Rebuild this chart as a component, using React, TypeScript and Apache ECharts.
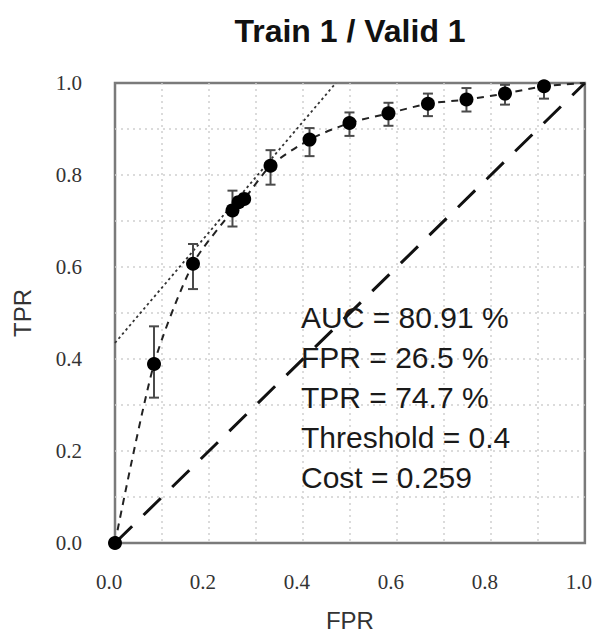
import React, { useEffect, useRef } from "react";
import * as echarts from "echarts";

const titleText = "Train 1 / Valid 1";
const xName = "FPR";
const yName = "TPR";

// ROC operating points (FPR, TPR)
const fpr = [0, 0.083, 0.166, 0.25, 0.263, 0.275, 0.331, 0.414, 0.499, 0.582, 0.666, 0.748, 0.83, 0.913, 1.0];
const tpr = [0, 0.389, 0.607, 0.723, 0.741, 0.748, 0.82, 0.877, 0.913, 0.934, 0.955, 0.964, 0.977, 0.993, 1.0];
// error bars (null = none)
const errLow = [null, 0.316, 0.552, 0.688, null, null, 0.779, 0.841, 0.885, 0.907, 0.928, 0.938, 0.953, 0.966, null];
const errHigh = [null, 0.471, 0.65, 0.766, null, null, 0.854, 0.902, 0.936, 0.957, 0.977, 0.989, 0.996, 1.0, null];

// tangent line at the chosen threshold
const tangentX = [0, 0.47];
const tangentY = [0.435, 1.0];
// chance diagonal
const diagX = [0, 1];
const diagY = [0, 1];

const statLines = [
  "AUC = 80.91 %",
  "FPR = 26.5 %",
  "TPR = 74.7 %",
  "Threshold = 0.4",
  "Cost = 0.259",
];

export default function App() {
  const ref = useRef<HTMLDivElement>(null);
  useEffect(() => {
    if (!ref.current) return;
    const chart = echarts.init(ref.current, null, { renderer: "svg" });
    const linePts = fpr.map((x, i) => [x, tpr[i]]);
    const markerPts = linePts.slice(0, -1);
    const errData: number[][] = [];
    fpr.forEach((x, i) => {
      if (errLow[i] != null && errHigh[i] != null) errData.push([x, errLow[i] as number, errHigh[i] as number]);
    });
    const serifLabel = {
      fontFamily: "Liberation Serif",
      fontSize: 21,
      color: "#333",
    };
    const split = {
      show: true,
      showMinLine: false,
      showMaxLine: false,
      lineStyle: { color: "#cfcfcf", width: 1.5, type: [2, 4] },
    };
    chart.setOption({
      animation: false,
      backgroundColor: "#ffffff",
      grid: {
        left: 115,
        top: 83,
        width: 471,
        height: 470,
        show: true,
        borderColor: "#7a7a7a",
        borderWidth: 2.5,
        containLabel: false,
      },
      graphic: [
        {
          type: "text",
          x: 350,
          y: 31,
          style: {
            text: titleText,
            font: "bold 32px 'Liberation Sans'",
            fill: "#111",
            align: "center",
            verticalAlign: "middle",
          },
        },
        ...statLines.map((s, i) => ({
          type: "text",
          x: 301,
          y: 317 + i * 40,
          z: 100,
          style: {
            text: s,
            font: "30px 'Liberation Sans'",
            fill: "#1a1a1a",
            align: "left",
            verticalAlign: "middle",
          },
        })),
      ],
      xAxis: {
        type: "value",
        min: 0,
        max: 1,
        interval: 0.1,
        name: xName,
        nameLocation: "middle",
        nameGap: 65,
        nameTextStyle: { fontFamily: "Liberation Sans", fontSize: 24, color: "#333" },
        axisLine: { show: false },
        axisTick: { show: false },
        axisLabel: {
          ...serifLabel,
          margin: 28,
          padding: [0, 12, 0, 0],
          formatter: (v: number) => {
            const k = Math.round(v * 10);
            return k % 2 === 0 ? v.toFixed(1) : "";
          },
        },
        splitLine: split,
      },
      yAxis: {
        type: "value",
        min: 0,
        max: 1,
        interval: 0.1,
        name: yName,
        nameLocation: "middle",
        nameGap: 81,
        nameRotate: 90,
        nameTextStyle: { fontFamily: "Liberation Sans", fontSize: 24, color: "#333" },
        axisLine: { show: false },
        axisTick: { show: false },
        axisLabel: {
          ...serifLabel,
          margin: 33,
          padding: [0, 0, 10, 0],
          formatter: (v: number) => {
            const k = Math.round(v * 10);
            return k % 2 === 0 ? v.toFixed(1) : "";
          },
        },
        splitLine: split,
      },
      series: [
        {
          type: "line",
          data: diagX.map((x, i) => [x, diagY[i]]),
          showSymbol: false,
          symbol: "none",
          lineStyle: { color: "#111", width: 3, type: [24, 16] },
          z: 2,
        },
        {
          type: "line",
          data: tangentX.map((x, i) => [x, tangentY[i]]),
          showSymbol: false,
          symbol: "none",
          lineStyle: { color: "#333", width: 1.8, type: [2.5, 3] },
          z: 3,
        },
        {
          type: "line",
          data: linePts,
          showSymbol: false,
          symbol: "none",
          smooth: 0.25,
          lineStyle: { color: "#222", width: 2, type: [7, 6] },
          z: 4,
        },
        {
          type: "custom",
          data: errData,
          z: 5,
          renderItem: (params: any, api: any) => {
            const x = api.value(0);
            const lo = api.coord([x, api.value(1)]);
            const hi = api.coord([x, api.value(2)]);
            const cap = 5;
            const st = { stroke: "#4a4a4a", lineWidth: 2 };
            return {
              type: "group",
              children: [
                { type: "line", shape: { x1: lo[0], y1: lo[1], x2: hi[0], y2: hi[1] }, style: st },
                { type: "line", shape: { x1: lo[0] - cap, y1: lo[1], x2: lo[0] + cap, y2: lo[1] }, style: st },
                { type: "line", shape: { x1: hi[0] - cap, y1: hi[1], x2: hi[0] + cap, y2: hi[1] }, style: st },
              ],
            };
          },
        },
        {
          type: "scatter",
          data: markerPts,
          symbol: "circle",
          symbolSize: 14,
          itemStyle: { color: "#000", opacity: 1 },
          z: 6,
        },
      ],
    });
    return () => chart.dispose();
  }, []);
  return (
    <div
      ref={ref}
      style={{ position: "fixed", left: 0, top: 0, width: 595, height: 637, background: "#fff" }}
    />
  );
}
